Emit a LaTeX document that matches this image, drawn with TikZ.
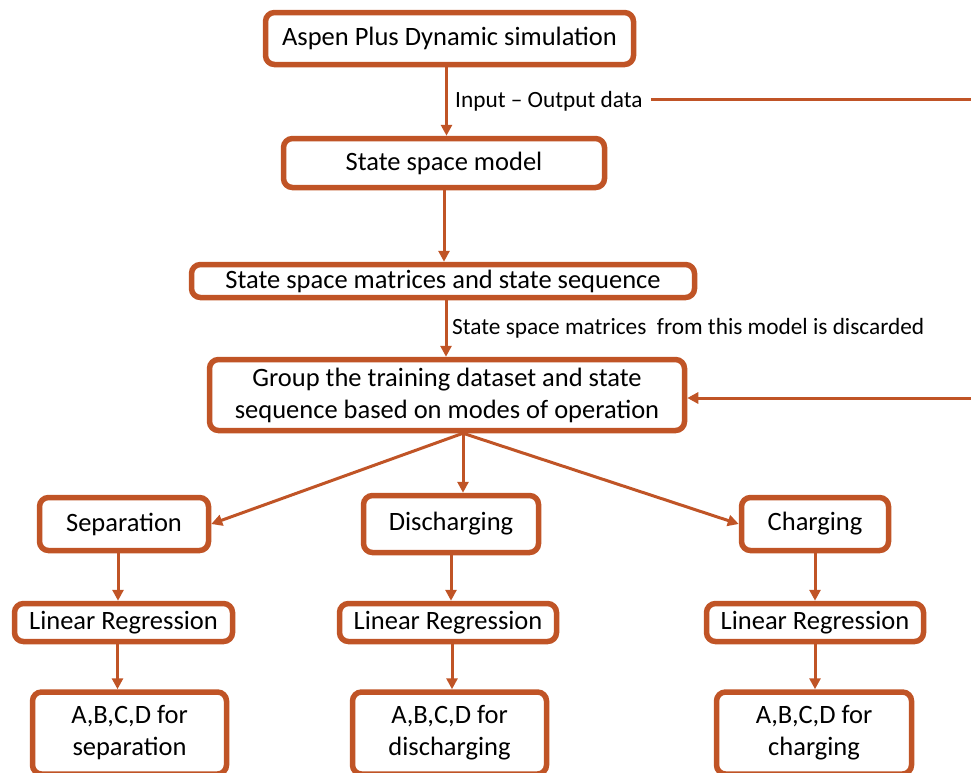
\documentclass[tikz,border=0pt]{standalone}
\usepackage{fontspec}
\setmainfont{Carlito}
\usetikzlibrary{arrows.meta,positioning}
\definecolor{rust}{RGB}{192,84,38}

\tikzset{
  box/.style={draw=rust, line width=5.5pt, rounded corners=9pt, fill=white,
    inner sep=2pt, align=center, font=\fontsize{26.5}{32}\selectfont},
  link/.style={draw=rust, line width=3pt, -{Triangle[length=11pt,width=11pt]}},
  plain/.style={draw=rust, line width=3pt},
  lab/.style={anchor=west, inner sep=1pt, font=\fontsize{23.3}{27}\selectfont},
}

\begin{document}
\begin{tikzpicture}[x=1pt,y=-1pt]
  \useasboundingbox (0,0) rectangle (971,772);

  % main chain
  \node [box, minimum width=368pt, minimum height=52pt] (aspen) at (449.5,38.5) {Aspen Plus Dynamic simulation};
  \node [box, minimum width=321pt, minimum height=49pt] (ssm) at (444,163) {State space model};
  \node [box, minimum width=503pt, minimum height=33pt] (ssmat) at (443,281) {State space matrices and state sequence};
  \node [box, minimum width=475pt, minimum height=71pt] (group) at (447,395)
        {Group the training dataset and state\\sequence based on modes of operation};

  % modes
  \node [box, minimum width=169pt, minimum height=53pt] (sep) at (124,524) {Separation};
  \node [box, minimum width=175pt, minimum height=57pt] (dis) at (451,524) {Discharging};
  \node [box, minimum width=147pt, minimum height=53pt] (chg) at (815,524) {Charging};

  \node [box, minimum width=218pt, minimum height=38pt] (lrsep) at (123.5,622.5) {Linear Regression};
  \node [box, minimum width=217pt, minimum height=38pt] (lrdis) at (448,622.5) {Linear Regression};
  \node [box, minimum width=217pt, minimum height=38pt] (lrchg) at (815,622.5) {Linear Regression};

  \node [box, minimum width=194pt, minimum height=82pt] (abcsep) at (129.5,733) {A,B,C,D for\\separation};
  \node [box, minimum width=194pt, minimum height=82pt] (abcdis) at (449.5,733) {A,B,C,D for\\discharging};
  \node [box, minimum width=195pt, minimum height=82pt] (abcchg) at (814,733) {A,B,C,D for\\charging};

  % labels
  \node [lab] (inlab) at (454,101) {Input -- Output data};
  \node [lab] (dislab) at (451,328) {State space matrices\ \ from this model is discarded};

  \coordinate (outA) at (971,99);
  \coordinate (outB) at (971,398);
  \coordinate (fork) at ([xshift=16pt]group.south);

  \draw [link] ([xshift=-3pt]aspen.south) -- ([xshift=-3pt]aspen.south |- ssm.north);
  \draw [link] (ssm.south) -- (ssm.south |- ssmat.north);
  \draw [link] ([xshift=3pt]ssmat.south) -- ([xshift=3pt]ssmat.south |- group.north);
  \draw [plain, shorten <=7pt] (inlab.east |- outA) -- (outA);
  \draw [link] (outB) -- (outB -| group.east);

  \draw [link] (fork) -- (sep.east);
  \draw [link] (fork) -- (fork |- dis.north);
  \draw [link] (fork) -- (chg.west);

  \draw [link] ([xshift=-6pt]sep.south) -- ([xshift=-6pt]sep.south |- lrsep.north);
  \draw [link] ([xshift=-6pt]lrsep.south) -- ([xshift=-6pt]lrsep.south |- abcsep.north);
  \draw [link] (dis.south) -- (dis.south |- lrdis.north);
  \draw [link] ([xshift=4pt]lrdis.south) -- ([xshift=4pt]lrdis.south |- abcdis.north);
  \draw [link] (chg.south) -- (chg.south |- lrchg.north);
  \draw [link] (lrchg.south) -- (lrchg.south |- abcchg.north);
\end{tikzpicture}
\end{document}
